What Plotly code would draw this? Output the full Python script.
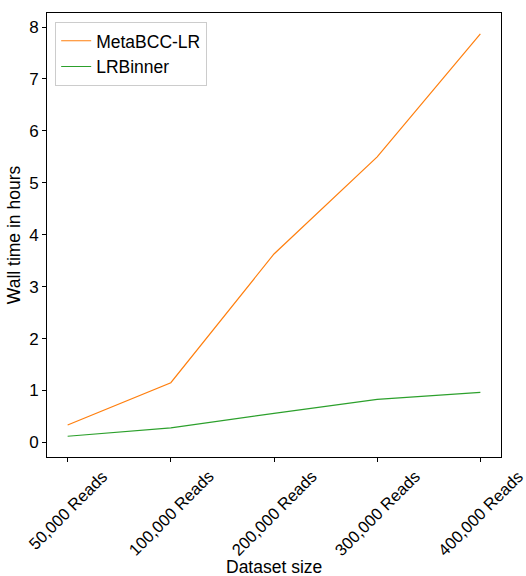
import plotly.graph_objects as go

categories = ["50,000 Reads", "100,000 Reads", "200,000 Reads", "300,000 Reads", "400,000 Reads"]
metabcc = [0.335, 1.15, 3.63, 5.50, 7.87]
lrbinner = [0.12, 0.28, 0.56, 0.83, 0.965]
y_ticks = [0, 1, 2, 3, 4, 5, 6, 7, 8]

FONT = "Liberation Sans"
idx = list(range(len(categories)))

fig = go.Figure()
fig.add_trace(go.Scatter(x=idx, y=metabcc, mode="lines", name="MetaBCC-LR",
                         line=dict(color="#ff7f0e", width=1.2)))
fig.add_trace(go.Scatter(x=idx, y=lrbinner, mode="lines", name="LRBinner",
                         line=dict(color="#2ca02c", width=1.2)))

for i, lab in enumerate(categories):
    fig.add_annotation(x=i, y=0, xref="x", yref="paper", text=lab, showarrow=False,
                       textangle=-45, xanchor="center", yanchor="top", yshift=-7,
                       font=dict(family=FONT, size=16.5, color="#000"))

fig.add_annotation(x=0.5, y=-0.247, xref="paper", yref="paper", text="Dataset size",
                   showarrow=False, xanchor="center", yanchor="middle",
                   font=dict(family=FONT, size=17.5, color="#000"))

fig.update_layout(
    width=526, height=576,
    margin=dict(l=47, r=25, t=13, b=119),
    paper_bgcolor="white", plot_bgcolor="white",
    font=dict(family=FONT, size=16, color="#000"),
    showlegend=True,
    legend=dict(x=0.018, y=0.98, xanchor="left", yanchor="top",
                bgcolor="rgba(255,255,255,0.8)", bordercolor="#cccccc", borderwidth=1,
                font=dict(family=FONT, size=17.5, color="#000"),
                tracegroupgap=2),
    xaxis=dict(range=[-0.2, 4.2], tickmode="array", tickvals=idx, ticktext=["" for _ in idx],
               showgrid=False, zeroline=False, showline=True, linecolor="#000", linewidth=1,
               mirror=True, ticks="outside", ticklen=4, tickcolor="#000"),
    yaxis=dict(range=[-0.28, 8.27], tickmode="array", tickvals=y_ticks,
               ticktext=[str(v) for v in y_ticks],
               showgrid=False, zeroline=False, showline=True, linecolor="#000", linewidth=1,
               mirror=True, ticks="outside", ticklen=4, tickcolor="#000",
               tickfont=dict(family=FONT, size=17, color="#000"),
               title=dict(text="Wall time in hours", standoff=4,
                          font=dict(family=FONT, size=17.5, color="#000"))),
)

fig.write_html("out.html")
